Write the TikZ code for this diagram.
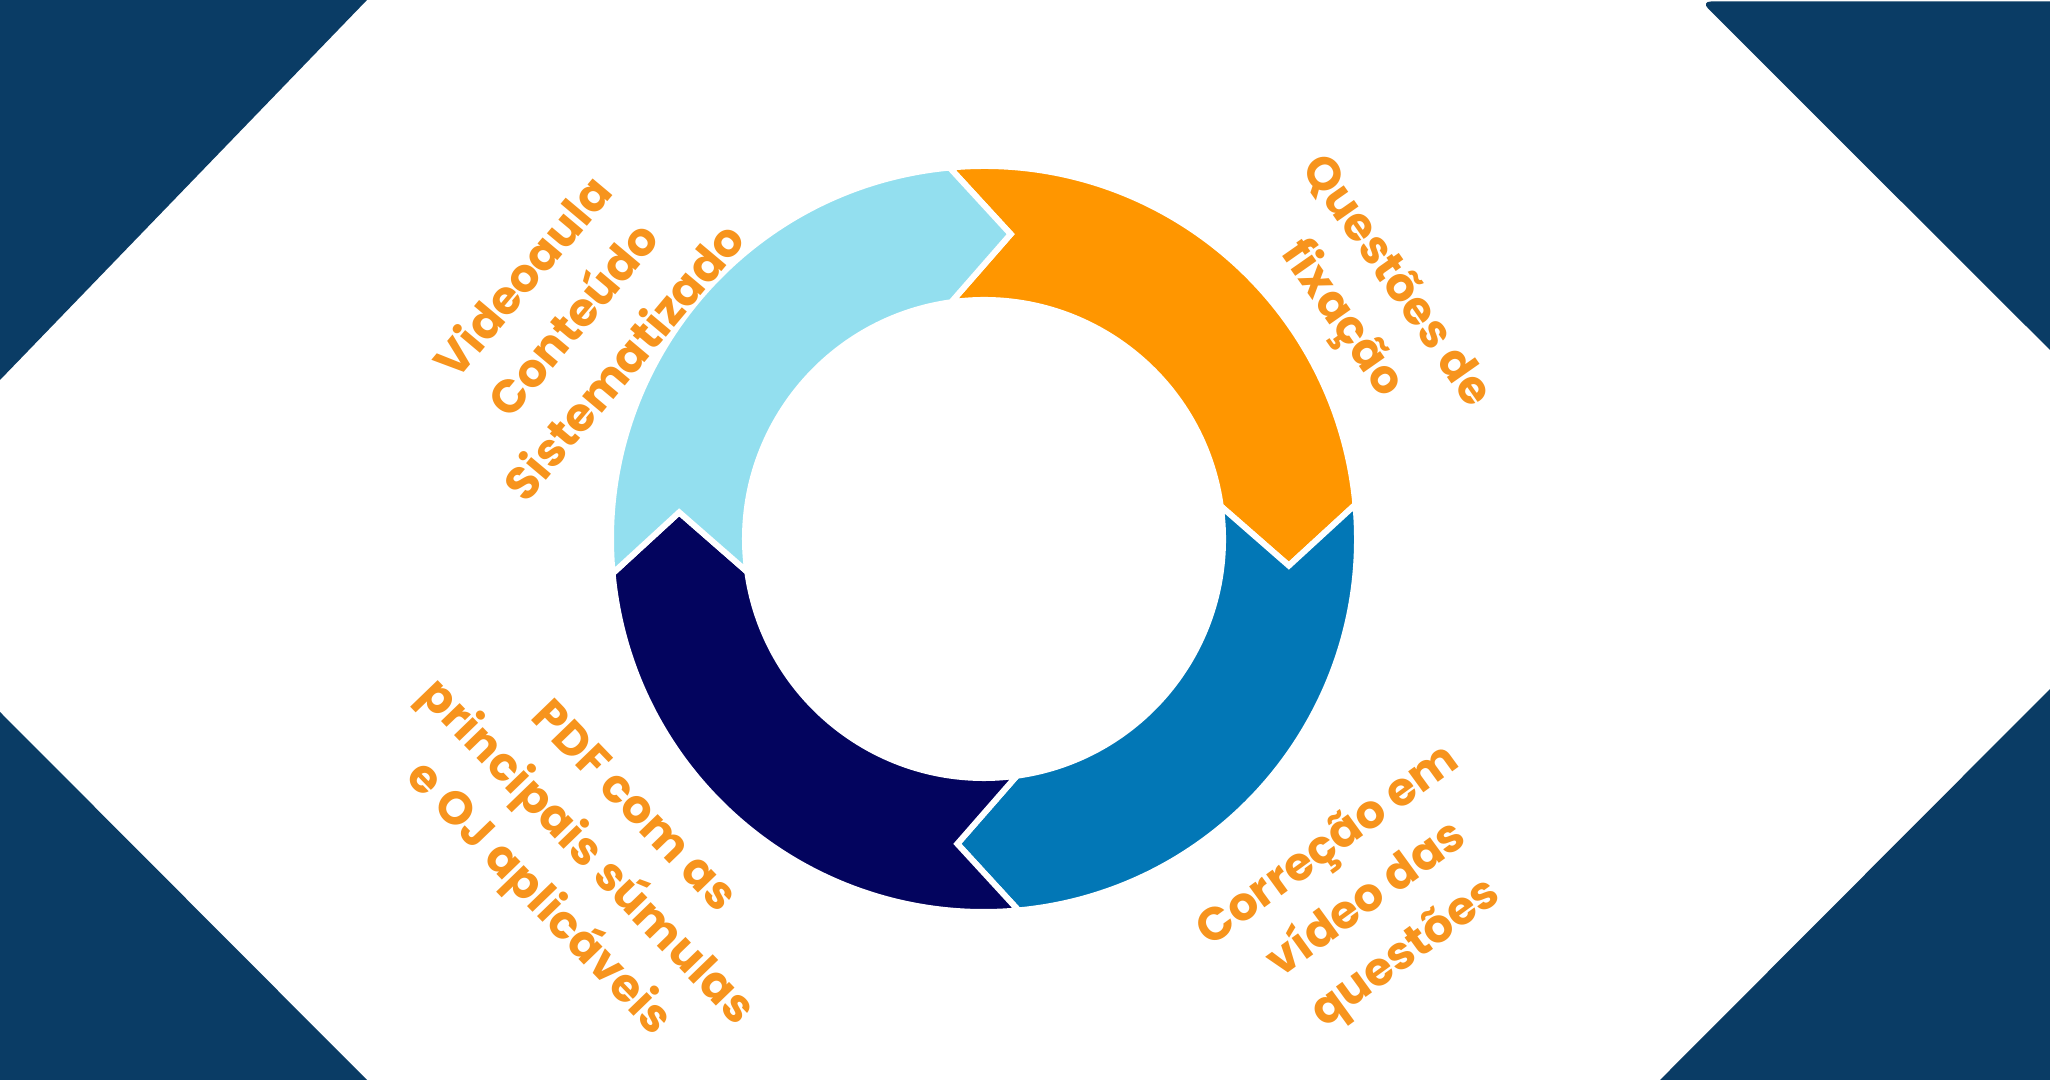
\documentclass[tikz,border=0pt]{standalone}
\usepackage{fontspec}
\setmainfont{Poppins}
\definecolor{cornerblue}{HTML}{0A3C65}
\definecolor{ringlight}{HTML}{93DFEF}
\definecolor{ringorange}{HTML}{FF9600}
\definecolor{ringblue}{HTML}{0277B6}
\definecolor{ringnavy}{HTML}{03045E}
\definecolor{labelorange}{HTML}{F7941D}
\tikzset{
  corner/.style={fill=cornerblue, draw=none},
  seg/.style={fill=#1, draw=white, line width=0.06cm, line join=miter},
  lbl/.style={text=labelorange, font=\bfseries\fontsize{13.2}{18.8}\selectfont, align=center, inner sep=0pt}
}
\begin{document}
\begin{tikzpicture}
\useasboundingbox (0,0) rectangle (20.5,10.8);
\fill[white] (0,0) rectangle (20.5,10.8);
% corner shapes
\path[corner] (0,10.8) -- (3.67,10.8) -- (0,7.0) -- cycle;
\path[corner] (0,3.68) -- (0,0) -- (3.67,0) -- cycle;
\path[corner] (20.5,3.91) -- (20.5,0) -- (16.6,0) -- cycle;
\path[corner] (20.5,7.3) -- (20.5,10.785) -- (18.5,10.785) [rounded corners=0.1cm] -- (17.01,10.785) -- (18.0,9.795) [sharp corners] -- cycle;
% ring
\coordinate (C) at (9.84,5.41);
\def\Ro{3.73}\def\Ri{2.39}\def\Rm{3.06}
\foreach \s/\col in {96.6/ringorange, 6.6/ringblue, 276.6/ringnavy, 186.6/ringlight}{
  \pgfmathsetmacro{\e}{\s-90}
  \pgfmathsetmacro{\ao}{\s-1.3}
  \pgfmathsetmacro{\bo}{\e-1.3}
  \pgfmathsetmacro{\tp}{\e-11.6}
  \pgfmathsetmacro{\bi}{\e+1.3}
  \pgfmathsetmacro{\ai}{\s+1.3}
  \pgfmathsetmacro{\np}{\s-11.6}
  \path[seg=\col] ([shift={(C)}]\ao:\Ro) arc[start angle=\ao, end angle=\bo, radius=\Ro]
     -- ([shift={(C)}]\tp:\Rm) -- ([shift={(C)}]\bi:\Ri)
     arc[start angle=\bi, end angle=\ai, radius=\Ri]
     -- ([shift={(C)}]\np:\Rm) -- cycle;
}
% labels
\node[lbl, rotate=50] (t1) at (5.72,7.62) {Videoaula\\Conteúdo\\Sistematizado};
\node[lbl, rotate=-55] (t2) at (13.675,7.785) {Questões de\\fixação};
\node[lbl, rotate=-46] (t3) at (5.84,2.25) {PDF com as\\principais súmulas\\e OJ aplicáveis};
\node[lbl, rotate=36] (t4) at (13.68,1.79) {Correção em\\vídeo das\\questões};
\end{tikzpicture}
\end{document}
